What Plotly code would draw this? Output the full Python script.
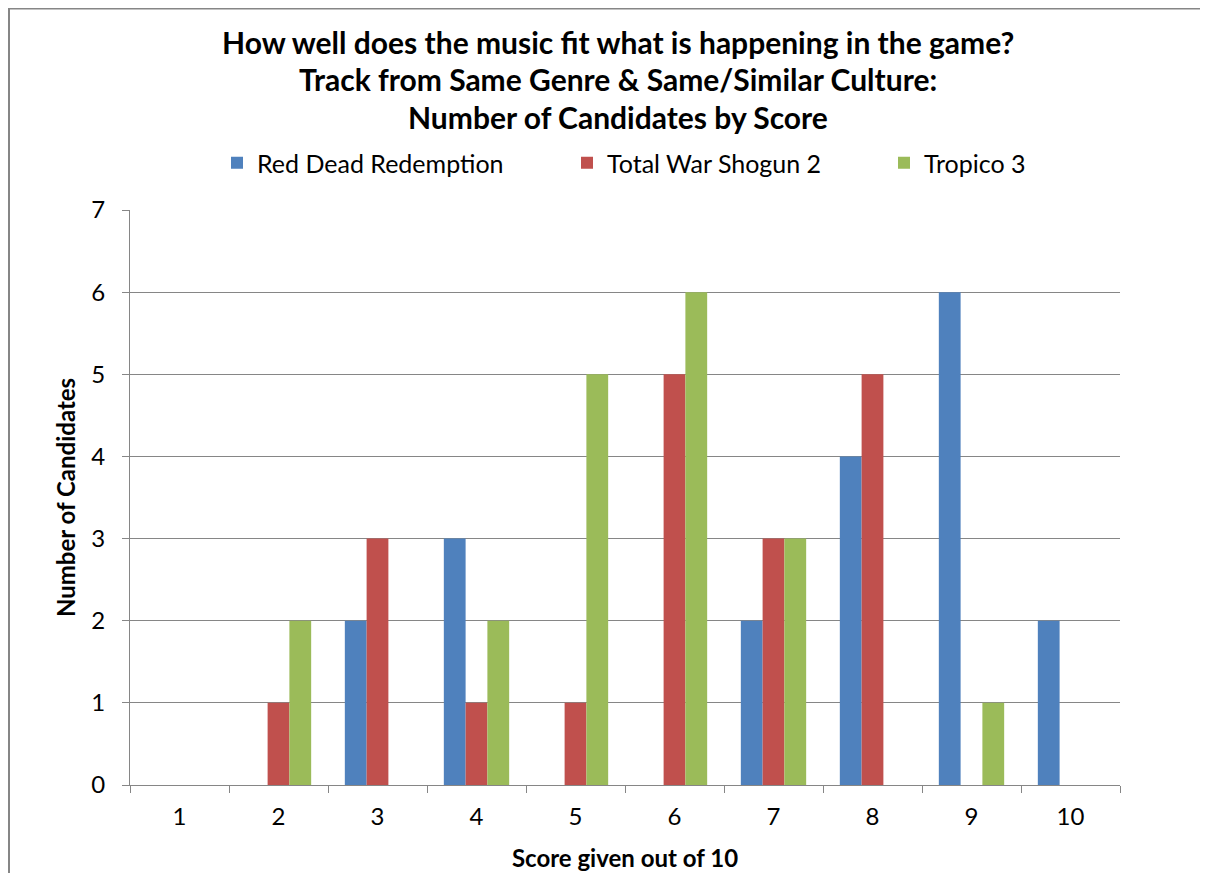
import plotly.graph_objects as go

scores = ["1", "2", "3", "4", "5", "6", "7", "8", "9", "10"]
red_dead = [0, 0, 2, 3, 0, 0, 2, 4, 6, 2]
total_war = [0, 1, 3, 1, 1, 5, 3, 5, 0, 0]
tropico = [0, 2, 0, 2, 5, 6, 3, 0, 1, 0]

series_names = ["Red Dead Redemption", "Total War Shogun 2", "Tropico 3"]
series_vals = [red_dead, total_war, tropico]
series_colors = ["#4F81BD", "#C0504D", "#9BBB59"]
legend_ids = ["legend", "legend2", "legend3"]

title_lines = [
    "How well does the music fit what is happening in the game?",
    "Track from Same Genre &amp; Same/Similar Culture:",
    "Number of Candidates by Score",
]

FONT = "Lato, 'Open Sans', sans-serif"

# figure is drawn inside the page with an 8px body margin
W, H = 1193, 866
L, T = 122, 202
R = W - 1112
B = H - 777
pw, ph = W - L - R, H - T - B


def py(fig_y):
    return 1 + (T - fig_y) / ph


def px(fig_x):
    return (fig_x - L) / pw


fig = go.Figure()
for name, vals, col, lg in zip(series_names, series_vals, series_colors, legend_ids):
    fig.add_trace(go.Bar(x=scores, y=vals, name=name, legend=lg, showlegend=True,
                         marker=dict(color=col, line=dict(width=0))))

legend_fig_x = [209, 559, 876]
legend_common = dict(orientation="h", yanchor="middle", y=py(155), xanchor="left",
                     font=dict(size=25), itemwidth=30, bgcolor="rgba(0,0,0,0)")

annotations = []
for i, line in enumerate(title_lines):
    annotations.append(dict(
        text=line, xref="paper", yref="paper", x=px(610),
        xanchor="center", y=py([34, 71, 109][i]), yanchor="middle", showarrow=False,
        font=dict(size=30, family=FONT, color="black", weight="bold"),
    ))

# chart-area border: only its left and top edges fall inside the window
bx, by_top, by_bot, bx_right = px(1), py(0.5), py(H - 1), px(W - 1)
border_path = f"M {bx},{by_bot} L {bx},{by_top} L {bx_right},{by_top}"

fig.update_layout(
    width=W, height=H,
    margin=dict(l=L, r=R, t=T, b=B, autoexpand=False),
    paper_bgcolor="white", plot_bgcolor="white",
    barmode="group", bargap=0.34, bargroupgap=0,
    showlegend=True,
    font=dict(family=FONT, color="black"),
    annotations=annotations,
    legend=dict(x=px(legend_fig_x[0]), **legend_common),
    legend2=dict(x=px(legend_fig_x[1]), **legend_common),
    legend3=dict(x=px(legend_fig_x[2]), **legend_common),
    xaxis=dict(
        type="category", tickson="boundaries", ticks="outside", ticklen=7,
        tickcolor="#868686", showline=True, linecolor="#868686", linewidth=1,
        tickfont=dict(size=24), showgrid=False, ticklabelstandoff=10, automargin=False,
        title=dict(text="Score given out of 10", font=dict(size=24, weight="bold"), standoff=21),
    ),
    yaxis=dict(
        range=[0, 7], dtick=1, ticks="outside", ticklen=7, tickcolor="#868686",
        showline=True, linecolor="#868686", linewidth=1,
        showgrid=True, gridcolor="#868686", gridwidth=1, zeroline=False,
        tickfont=dict(size=24), ticklabelstandoff=12, automargin=False,
        title=dict(text="Number of Candidates", font=dict(size=24, weight="bold"), standoff=8),
    ),
    shapes=[dict(type="path", xref="paper", yref="paper", path=border_path,
                 line=dict(color="#868686", width=2), fillcolor="rgba(0,0,0,0)",
                 layer="below")],
)

fig.write_html("out.html")
